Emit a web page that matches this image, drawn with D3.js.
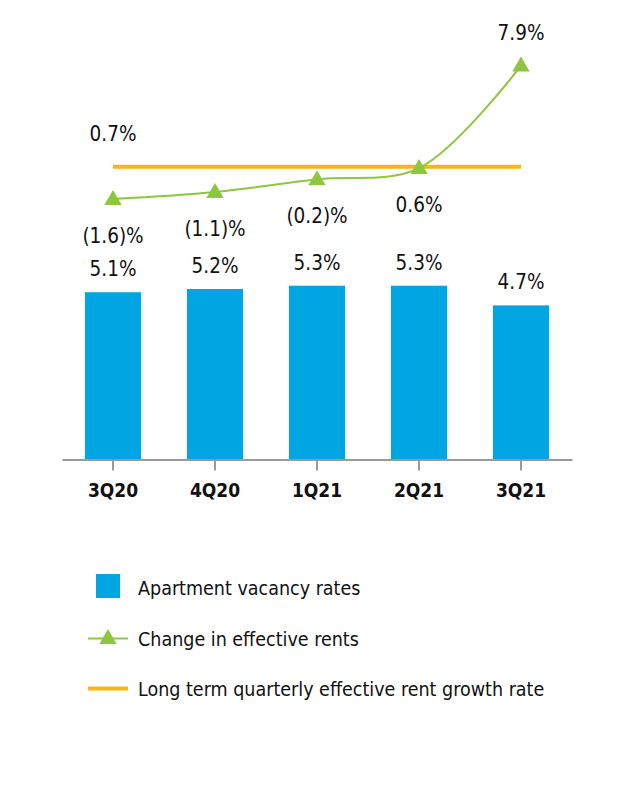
<!DOCTYPE html>
<html>
<head>
<meta charset="utf-8">
<script src="https://cdn.jsdelivr.net/npm/d3@7"></script>
<style>
  body { margin: 0; background: #fff; }
  svg text { font-family: "Liberation Sans Narrow", "Arial Narrow", "DejaVu Sans Condensed", sans-serif; fill: #111; }
</style>
</head>
<body>
<div id="chart"></div>
<script>
// chart data
var quarters = ['3Q20', '4Q20', '1Q21', '2Q21', '3Q21'];
var vacancy = [5.1, 5.2, 5.3, 5.3, 4.7];
var rentChange = [-1.6, -1.1, -0.2, 0.6, 7.9];
var longTermRate = 0.7;
var legendLabels = ['Apartment vacancy rates', 'Change in effective rents', 'Long term quarterly effective rent growth rate'];

var svgWidth = 636;
var svgHeight = 786;

var blue = '#00a5e2';
var green = '#8dc63f';
var orange = '#fdb515';

var svg = d3.select('#chart')
    .append('svg')
    .attr('width', svgWidth)
    .attr('height', svgHeight);

// scales
var xScale = d3.scaleBand()
    .domain(quarters)
    .range([62, 572])
    .paddingInner(0.45)
    .paddingOuter(0.225);

var barScale = d3.scaleLinear()
    .domain([0, 5.3])
    .range([459.5, 285.7]);

var lineScale = d3.scaleLinear()
    .domain([-1.6, 7.9])
    .range([199, 65.6]);

var cx = d => xScale(d) + xScale.bandwidth() / 2;

// bars
svg.append('g').selectAll('rect')
    .data(quarters)
    .enter()
    .append('rect')
    .attr('x', d => xScale(d))
    .attr('width', xScale.bandwidth())
    .attr('y', (d, i) => barScale(vacancy[i]))
    .attr('height', (d, i) => barScale(0) - barScale(vacancy[i]))
    .attr('fill', blue);

// bar labels
svg.append('g').selectAll('text')
    .data(quarters)
    .enter()
    .append('text')
    .attr('x', d => cx(d))
    .attr('y', (d, i) => barScale(vacancy[i]) - 16)
    .attr('text-anchor', 'middle')
    .attr('font-size', '20.5px')
    .text((d, i) => vacancy[i].toFixed(1) + '%');

// x axis
var bottomAxis = d3.axisBottom(xScale).tickSize(11).tickSizeOuter(0);
var xAxisG = svg.append('g')
    .attr('transform', 'translate(0,459.5)')
    .call(bottomAxis);
xAxisG.select('.domain').attr('stroke', '#9a9a9a').attr('stroke-width', 2);
xAxisG.selectAll('.tick line').attr('stroke', '#9a9a9a').attr('stroke-width', 2);
xAxisG.selectAll('.tick text')
    .attr('y', 37.5)
    .attr('dy', 0)
    .attr('font-size', '19px')
    .attr('font-weight', 'bold')
    .attr('fill', '#111');

// long term rate line
svg.append('line')
    .attr('x1', cx(quarters[0]))
    .attr('x2', cx(quarters[quarters.length - 1]))
    .attr('y1', lineScale(longTermRate))
    .attr('y2', lineScale(longTermRate))
    .attr('stroke', orange)
    .attr('stroke-width', 4);

svg.append('text')
    .attr('x', cx(quarters[0]))
    .attr('y', lineScale(longTermRate) - 26)
    .attr('text-anchor', 'middle')
    .attr('font-size', '20.5px')
    .text(longTermRate.toFixed(1) + '%');

// rent change line
var line = d3.line()
    .x((d, i) => cx(quarters[i]))
    .y(d => lineScale(d))
    .curve(d3.curveCatmullRom.alpha(0.5));

svg.append('path')
    .datum(rentChange)
    .attr('d', line)
    .attr('fill', 'none')
    .attr('stroke', green)
    .attr('stroke-width', 2);

var triangle = d3.symbol().type(d3.symbolTriangle).size(130);

svg.append('g').selectAll('path')
    .data(rentChange)
    .enter()
    .append('path')
    .attr('d', triangle)
    .attr('transform', (d, i) => `translate(${cx(quarters[i])},${lineScale(d) + 1})`)
    .attr('fill', green);

var fmtChange = v => v < 0 ? '(' + Math.abs(v).toFixed(1) + ')%' : v.toFixed(1) + '%';

svg.append('g').selectAll('text')
    .data(rentChange)
    .enter()
    .append('text')
    .attr('x', (d, i) => cx(quarters[i]))
    .attr('y', (d, i) => i == rentChange.length - 1 ? lineScale(d) - 26 : lineScale(d) + 44)
    .attr('text-anchor', 'middle')
    .attr('font-size', '20.5px')
    .text(d => fmtChange(d));

// legend
var legend = svg.append('g').attr('transform', 'translate(88,0)');

legend.append('rect')
    .attr('x', 8).attr('y', 574)
    .attr('width', 24).attr('height', 24)
    .attr('fill', blue);

legend.append('line')
    .attr('x1', 0).attr('x2', 40)
    .attr('y1', 638.5).attr('y2', 638.5)
    .attr('stroke', green).attr('stroke-width', 2);
legend.append('path')
    .attr('d', triangle)
    .attr('transform', 'translate(20,639)')
    .attr('fill', green);

legend.append('line')
    .attr('x1', 0).attr('x2', 40)
    .attr('y1', 688.5).attr('y2', 688.5)
    .attr('stroke', orange).attr('stroke-width', 4);

legend.selectAll('text.legendText')
    .data(legendLabels)
    .enter()
    .append('text')
    .classed('legendText', true)
    .attr('x', 50)
    .attr('y', (d, i) => 595 + i * 50.5)
    .attr('font-size', '19.5px')
    .text(d => d);
</script>
</body>
</html>
